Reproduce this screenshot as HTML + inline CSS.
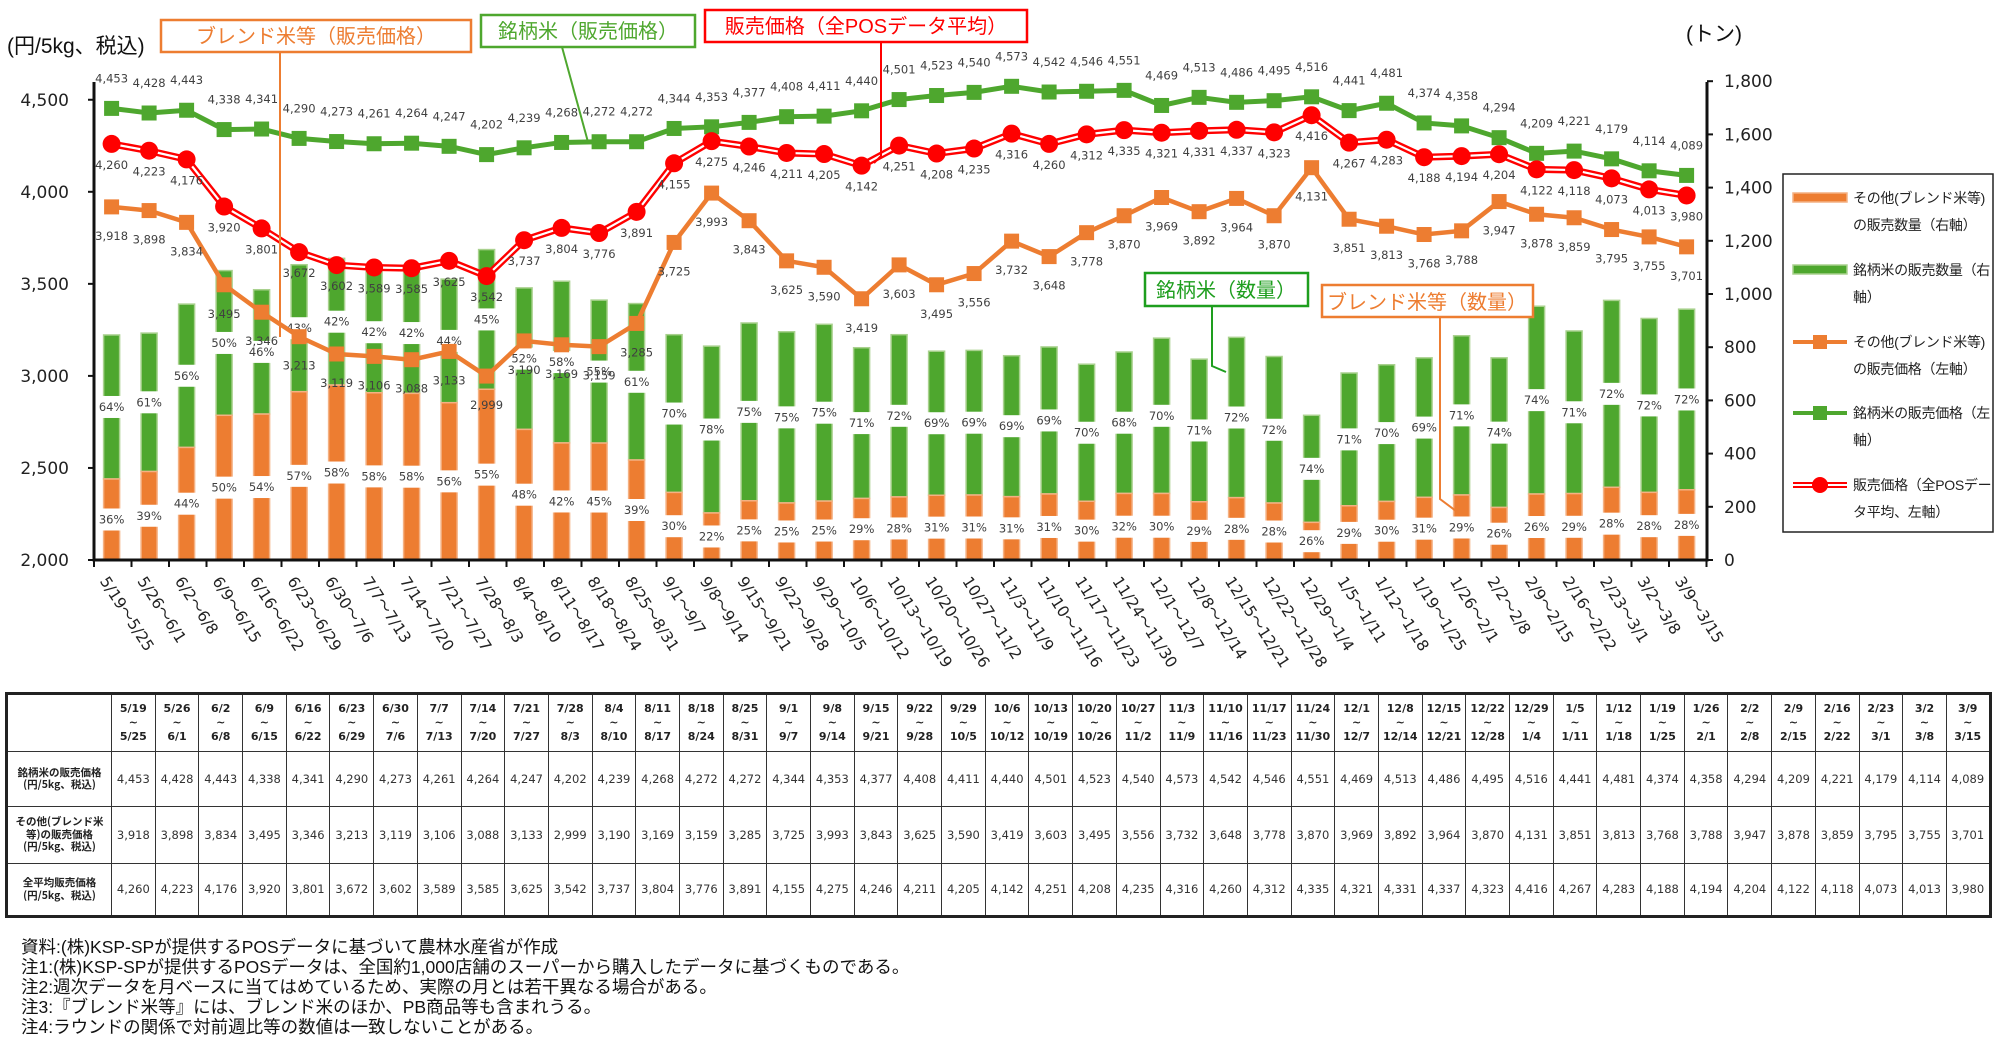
<!DOCTYPE html>
<html><head><meta charset="utf-8">
<style>
body{margin:0;background:#fff;width:2000px;height:1051px;overflow:hidden;position:relative;font-family:"DejaVu Sans","Liberation Sans","Noto Sans CJK JP",sans-serif}
svg{position:absolute;left:0;top:0}
table{position:absolute;left:5px;top:692px;border-collapse:collapse;border:3px solid #222;table-layout:fixed;width:1986px}
td{border:1.5px solid #333;text-align:center;font-size:11.5px;color:#333;padding:0;overflow:hidden;white-space:nowrap;line-height:13px}
tr.h td{height:56px;font-weight:bold;font-size:11px;line-height:14px;color:#222}
td.l{font-family:"Noto Sans CJK JP",sans-serif;font-weight:bold;font-size:10.5px;line-height:12.5px;white-space:normal;color:#222}
.notes{position:absolute;left:21px;top:937px;font-family:"Liberation Sans","Noto Sans CJK JP",sans-serif;font-size:17.5px;line-height:20px;color:#111}
</style></head><body>
<svg id="c" width="2000" height="690" xmlns="http://www.w3.org/2000/svg" font-family="DejaVu Sans, sans-serif">
<g id="dyn"></g>
<text x="7" y="53" font-family="Liberation Sans, Noto Sans CJK JP, sans-serif" font-size="21" fill="#111">(円/5kg、税込)</text>
<text x="1686" y="41" font-family="Liberation Sans, Noto Sans CJK JP, sans-serif" font-size="21" fill="#111">(トン)</text>
<rect x="161" y="20" width="310" height="32" fill="#fff" stroke="#ed7d31" stroke-width="2.5"/>
<text x="316" y="43" text-anchor="middle" font-family="Noto Sans CJK JP, sans-serif" font-size="20" fill="#ed7d31">ブレンド米等（販売価格）</text>
<polyline points="280,52 280,337" fill="none" stroke="#ed7d31" stroke-width="2"/>
<rect x="481" y="15" width="214" height="32" fill="#fff" stroke="#4ea72e" stroke-width="2.5"/>
<text x="588" y="38" text-anchor="middle" font-family="Noto Sans CJK JP, sans-serif" font-size="20" fill="#4ea72e">銘柄米（販売価格）</text>
<polyline points="562,47 588,142" fill="none" stroke="#4ea72e" stroke-width="2"/>
<rect x="705" y="10" width="322" height="32" fill="#fff" stroke="#ff0000" stroke-width="2.5"/>
<text x="866" y="33" text-anchor="middle" font-family="Liberation Sans, Noto Sans CJK JP, sans-serif" font-size="20" fill="#ff0000">販売価格（全POSデータ平均）</text>
<polyline points="881,42 881,156 874,163" fill="none" stroke="#ff0000" stroke-width="2"/>
<rect x="1145" y="273" width="163" height="33" fill="#fff" stroke="#1e9e1e" stroke-width="2.5"/>
<text x="1226" y="297" text-anchor="middle" font-family="Noto Sans CJK JP, sans-serif" font-size="20" fill="#1e9e1e">銘柄米（数量）</text>
<polyline points="1212,306 1212,366 1226,372" fill="none" stroke="#1e9e1e" stroke-width="2"/>
<rect x="1322" y="285" width="211" height="32" fill="#fff" stroke="#ed7d31" stroke-width="2.5"/>
<text x="1427" y="309" text-anchor="middle" font-family="Noto Sans CJK JP, sans-serif" font-size="20" fill="#ed7d31">ブレンド米等（数量）</text>
<polyline points="1440,317 1440,499 1456,511" fill="none" stroke="#ed7d31" stroke-width="2"/>
<rect x="1783" y="174" width="210" height="358" fill="#fff" stroke="#222" stroke-width="1.5"/>
<rect x="1793" y="193" width="54" height="9" fill="#ed7d31" stroke="#f4b183" stroke-width="1.5"/>
<rect x="1793" y="265" width="54" height="9" fill="#4ea72e" stroke="#a9d18e" stroke-width="1.5"/>
<line x1="1793" y1="342" x2="1847" y2="342" stroke="#ed7d31" stroke-width="4"/><rect x="1813" y="335" width="14" height="14" fill="#ed7d31"/>
<line x1="1793" y1="413" x2="1847" y2="413" stroke="#4ea72e" stroke-width="4"/><rect x="1813" y="406" width="14" height="14" fill="#4ea72e"/>
<line x1="1793" y1="485" x2="1847" y2="485" stroke="#ff0000" stroke-width="6"/><line x1="1793" y1="485" x2="1847" y2="485" stroke="#fff" stroke-width="2"/><circle cx="1820" cy="485" r="8" fill="#ff0000"/>
<g font-family="Liberation Sans, Noto Sans CJK JP, sans-serif" font-size="14" fill="#222" letter-spacing="-0.3">
<text x="1853" y="203">その他(ブレンド米等)</text><text x="1853" y="230">の販売数量（右軸）</text>
<text x="1853" y="275">銘柄米の販売数量（右</text><text x="1853" y="302">軸）</text>
<text x="1853" y="347">その他(ブレンド米等)</text><text x="1853" y="374">の販売価格（左軸）</text>
<text x="1853" y="418">銘柄米の販売価格（左</text><text x="1853" y="445">軸）</text>
<text x="1853" y="490">販売価格（全POSデー</text><text x="1853" y="517">タ平均、左軸）</text>
</g>
</svg>
<script>
var g=[4453,4428,4443,4338,4341,4290,4273,4261,4264,4247,4202,4239,4268,4272,4272,4344,4353,4377,4408,4411,4440,4501,4523,4540,4573,4542,4546,4551,4469,4513,4486,4495,4516,4441,4481,4374,4358,4294,4209,4221,4179,4114,4089];
var o=[3918,3898,3834,3495,3346,3213,3119,3106,3088,3133,2999,3190,3169,3159,3285,3725,3993,3843,3625,3590,3419,3603,3495,3556,3732,3648,3778,3870,3969,3892,3964,3870,4131,3851,3813,3768,3788,3947,3878,3859,3795,3755,3701];
var r=[4260,4223,4176,3920,3801,3672,3602,3589,3585,3625,3542,3737,3804,3776,3891,4155,4275,4246,4211,4205,4142,4251,4208,4235,4316,4260,4312,4335,4321,4331,4337,4323,4416,4267,4283,4188,4194,4204,4122,4118,4073,4013,3980];
var tot=[846,853,962,1088,1016,1110,1134,1084,1080,1056,1167,1023,1048,977,964,847,804,891,858,886,798,847,785,788,768,801,736,782,834,755,837,765,544,703,734,760,843,760,954,861,976,908,943];
var gp=["64%","61%","56%","50%","46%","43%","42%","42%","42%","44%","45%","52%","58%","55%","61%","70%","78%","75%","75%","75%","71%","72%","69%","69%","69%","69%","70%","68%","70%","71%","72%","72%","74%","71%","70%","69%","71%","74%","74%","71%","72%","72%","72%"];
var op=["36%","39%","44%","50%","54%","57%","58%","58%","58%","56%","55%","48%","42%","45%","39%","30%","22%","25%","25%","25%","29%","28%","31%","31%","31%","31%","30%","32%","30%","29%","28%","28%","26%","29%","30%","31%","29%","26%","26%","29%","28%","28%","28%"];
var lab=["5/19～5/25","5/26～6/1","6/2～6/8","6/9～6/15","6/16～6/22","6/23～6/29","6/30～7/6","7/7～7/13","7/14～7/20","7/21～7/27","7/28～8/3","8/4～8/10","8/11～8/17","8/18～8/24","8/25～8/31","9/1～9/7","9/8～9/14","9/15～9/21","9/22～9/28","9/29～10/5","10/6～10/12","10/13～10/19","10/20～10/26","10/27～11/2","11/3～11/9","11/10～11/16","11/17～11/23","11/24～11/30","12/1～12/7","12/8～12/14","12/15～12/21","12/22～12/28","12/29～1/4","1/5～1/11","1/12～1/18","1/19～1/25","1/26～2/1","2/2～2/8","2/9～2/15","2/16～2/22","2/23～3/1","3/2～3/8","3/9～3/15"];
function X(i){return 111.6+i*37.5}
function YL(v){return 560-(v-2000)*0.1841}
function YR(t){return 560-t*0.266}
function f(n){return n.toLocaleString('en-US')}
var s='';
var n=43;
for(var i=0;i<n;i++){
 var x=X(i), ot=tot[i]*parseInt(op[i])/100;
 var yt=YR(tot[i]), yo=YR(ot);
 s+='<rect x="'+(x-8)+'" y="'+yt+'" width="16" height="'+(yo-yt)+'" fill="#4ea72e" stroke="#a9d18e" stroke-width="1.5"/>';
 s+='<rect x="'+(x-8)+'" y="'+yo+'" width="16" height="'+(560-yo)+'" fill="#ed7d31" stroke="#f4b183" stroke-width="1.5"/>';
}
for(var i=0;i<n;i++){
 var x=X(i), ot=tot[i]*parseInt(op[i])/100;
 var yt=YR(tot[i]), yo=YR(ot);
 var ym=(yt+yo)/2, yb=(yo+560)/2;
 s+='<rect x="'+(x-11)+'" y="'+(ym-11)+'" width="22" height="22" fill="#fff"/>';
 s+='<rect x="'+(x-11)+'" y="'+(yb-11)+'" width="22" height="22" fill="#fff"/>';
 s+='<text x="'+x+'" y="'+(ym+4)+'" text-anchor="middle" font-size="11.5" fill="#404040">'+gp[i]+'</text>';
 s+='<text x="'+x+'" y="'+(yb+4)+'" text-anchor="middle" font-size="11.5" fill="#404040">'+op[i]+'</text>';
}
s+='<line x1="94" y1="82" x2="94" y2="561.5" stroke="#111" stroke-width="3"/>';
s+='<line x1="1707" y1="82" x2="1707" y2="561.5" stroke="#111" stroke-width="3"/>';
s+='<line x1="92.5" y1="560" x2="1708.5" y2="560" stroke="#111" stroke-width="3"/>';
for(var v=2000;v<=4500;v+=500){var y=YL(v);s+='<line x1="88" y1="'+y+'" x2="94" y2="'+y+'" stroke="#111" stroke-width="2"/><text x="69" y="'+(y+6)+'" text-anchor="end" font-size="17" fill="#222">'+f(v)+'</text>';}
for(var t=0;t<=1800;t+=200){var y=YR(t);s+='<line x1="1707" y1="'+y+'" x2="1713" y2="'+y+'" stroke="#111" stroke-width="2"/><text x="1724" y="'+(y+6)+'" font-size="17" fill="#222">'+f(t)+'</text>';}
for(var k=0;k<=n;k++){var x=94+k*37.5;s+='<line x1="'+x+'" y1="560" x2="'+x+'" y2="567" stroke="#111" stroke-width="2"/>';}
for(var i=0;i<n;i++){var x=X(i)-3,y=586;s+='<text x="'+x+'" y="'+y+'" font-size="15.5" fill="#222" font-family="DejaVu Sans, Noto Sans CJK JP, sans-serif" transform="rotate(57 '+x+' '+(y-11)+')">'+lab[i]+'</text>';}
function pts(a){return a.map(function(v,i){return X(i)+','+YL(v)}).join(' ')}
s+='<polyline points="'+pts(g)+'" fill="none" stroke="#4ea72e" stroke-width="5"/>';
s+='<polyline points="'+pts(o)+'" fill="none" stroke="#ed7d31" stroke-width="4.5"/>';
s+='<polyline points="'+pts(r)+'" fill="none" stroke="#ff0000" stroke-width="7"/>';
s+='<polyline points="'+pts(r)+'" fill="none" stroke="#fff" stroke-width="2.2"/>';
for(var i=0;i<n;i++){var x=X(i);
 s+='<rect x="'+(x-7.5)+'" y="'+(YL(g[i])-7.5)+'" width="15" height="15" fill="#4ea72e"/>';
 s+='<rect x="'+(x-7.5)+'" y="'+(YL(o[i])-7.5)+'" width="15" height="15" fill="#ed7d31"/>';
 s+='<circle cx="'+x+'" cy="'+YL(r[i])+'" r="9" fill="#ff0000"/>';
}
for(var i=0;i<n;i++){var x=X(i);
 s+='<text x="'+x+'" y="'+(YL(g[i])-26)+'" text-anchor="middle" font-size="11.5" fill="#404040">'+f(g[i])+'</text>';
 s+='<text x="'+x+'" y="'+(YL(o[i])+33)+'" text-anchor="middle" font-size="11.5" fill="#404040">'+f(o[i])+'</text>';
 s+='<text x="'+x+'" y="'+(YL(r[i])+25)+'" text-anchor="middle" font-size="11.5" fill="#404040">'+f(r[i])+'</text>';
}
document.getElementById('dyn').innerHTML=s;
</script>
<table>
<colgroup><col style="width:105px"><col span="43" style="width:43.7px"></colgroup>
<tr class="h"><td></td><td>5/19<br>~<br>5/25</td><td>5/26<br>~<br>6/1</td><td>6/2<br>~<br>6/8</td><td>6/9<br>~<br>6/15</td><td>6/16<br>~<br>6/22</td><td>6/23<br>~<br>6/29</td><td>6/30<br>~<br>7/6</td><td>7/7<br>~<br>7/13</td><td>7/14<br>~<br>7/20</td><td>7/21<br>~<br>7/27</td><td>7/28<br>~<br>8/3</td><td>8/4<br>~<br>8/10</td><td>8/11<br>~<br>8/17</td><td>8/18<br>~<br>8/24</td><td>8/25<br>~<br>8/31</td><td>9/1<br>~<br>9/7</td><td>9/8<br>~<br>9/14</td><td>9/15<br>~<br>9/21</td><td>9/22<br>~<br>9/28</td><td>9/29<br>~<br>10/5</td><td>10/6<br>~<br>10/12</td><td>10/13<br>~<br>10/19</td><td>10/20<br>~<br>10/26</td><td>10/27<br>~<br>11/2</td><td>11/3<br>~<br>11/9</td><td>11/10<br>~<br>11/16</td><td>11/17<br>~<br>11/23</td><td>11/24<br>~<br>11/30</td><td>12/1<br>~<br>12/7</td><td>12/8<br>~<br>12/14</td><td>12/15<br>~<br>12/21</td><td>12/22<br>~<br>12/28</td><td>12/29<br>~<br>1/4</td><td>1/5<br>~<br>1/11</td><td>1/12<br>~<br>1/18</td><td>1/19<br>~<br>1/25</td><td>1/26<br>~<br>2/1</td><td>2/2<br>~<br>2/8</td><td>2/9<br>~<br>2/15</td><td>2/16<br>~<br>2/22</td><td>2/23<br>~<br>3/1</td><td>3/2<br>~<br>3/8</td><td>3/9<br>~<br>3/15</td></tr>
<tr style="height:55px"><td class="l">銘柄米の販売価格<br>(円/5kg、税込)</td><td>4,453</td><td>4,428</td><td>4,443</td><td>4,338</td><td>4,341</td><td>4,290</td><td>4,273</td><td>4,261</td><td>4,264</td><td>4,247</td><td>4,202</td><td>4,239</td><td>4,268</td><td>4,272</td><td>4,272</td><td>4,344</td><td>4,353</td><td>4,377</td><td>4,408</td><td>4,411</td><td>4,440</td><td>4,501</td><td>4,523</td><td>4,540</td><td>4,573</td><td>4,542</td><td>4,546</td><td>4,551</td><td>4,469</td><td>4,513</td><td>4,486</td><td>4,495</td><td>4,516</td><td>4,441</td><td>4,481</td><td>4,374</td><td>4,358</td><td>4,294</td><td>4,209</td><td>4,221</td><td>4,179</td><td>4,114</td><td>4,089</td></tr>
<tr style="height:57px"><td class="l">その他(ブレンド米<br>等)の販売価格<br>(円/5kg、税込)</td><td>3,918</td><td>3,898</td><td>3,834</td><td>3,495</td><td>3,346</td><td>3,213</td><td>3,119</td><td>3,106</td><td>3,088</td><td>3,133</td><td>2,999</td><td>3,190</td><td>3,169</td><td>3,159</td><td>3,285</td><td>3,725</td><td>3,993</td><td>3,843</td><td>3,625</td><td>3,590</td><td>3,419</td><td>3,603</td><td>3,495</td><td>3,556</td><td>3,732</td><td>3,648</td><td>3,778</td><td>3,870</td><td>3,969</td><td>3,892</td><td>3,964</td><td>3,870</td><td>4,131</td><td>3,851</td><td>3,813</td><td>3,768</td><td>3,788</td><td>3,947</td><td>3,878</td><td>3,859</td><td>3,795</td><td>3,755</td><td>3,701</td></tr>
<tr style="height:53px"><td class="l">全平均販売価格<br>(円/5kg、税込)</td><td>4,260</td><td>4,223</td><td>4,176</td><td>3,920</td><td>3,801</td><td>3,672</td><td>3,602</td><td>3,589</td><td>3,585</td><td>3,625</td><td>3,542</td><td>3,737</td><td>3,804</td><td>3,776</td><td>3,891</td><td>4,155</td><td>4,275</td><td>4,246</td><td>4,211</td><td>4,205</td><td>4,142</td><td>4,251</td><td>4,208</td><td>4,235</td><td>4,316</td><td>4,260</td><td>4,312</td><td>4,335</td><td>4,321</td><td>4,331</td><td>4,337</td><td>4,323</td><td>4,416</td><td>4,267</td><td>4,283</td><td>4,188</td><td>4,194</td><td>4,204</td><td>4,122</td><td>4,118</td><td>4,073</td><td>4,013</td><td>3,980</td></tr>
</table>
<div class="notes">資料:(株)KSP-SPが提供するPOSデータに基づいて農林水産省が作成<br>注1:(株)KSP-SPが提供するPOSデータは、全国約1,000店舗のスーパーから購入したデータに基づくものである。<br>注2:週次データを月ベースに当てはめているため、実際の月とは若干異なる場合がある。<br>注3:『ブレンド米等』には、ブレンド米のほか、PB商品等も含まれうる。<br>注4:ラウンドの関係で対前週比等の数値は一致しないことがある。</div>
</body></html>
